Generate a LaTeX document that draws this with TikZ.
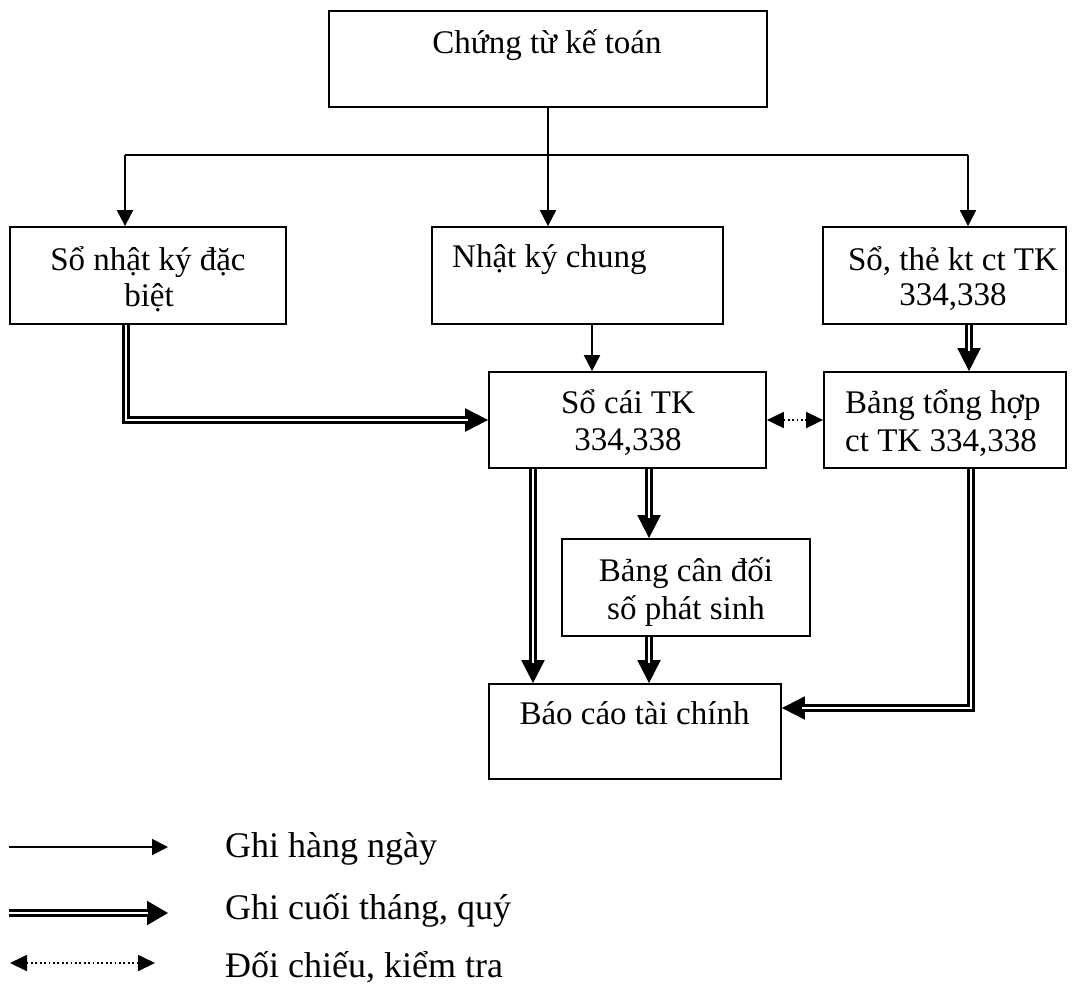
\documentclass[tikz,border=0pt]{standalone}
\usepackage{fontspec}
\setmainfont{Liberation Serif}
\usetikzlibrary{arrows.meta}
\begin{document}
\begin{tikzpicture}[x=1pt,y=-1pt,
  box/.style={draw,line width=1.8pt,rectangle,inner sep=0pt},
  txt/.style={inner sep=0pt,anchor=base,font=\fontsize{33}{39}\selectfont},
  txtl/.style={txt,anchor=base west},
  legtxt/.style={inner sep=0pt,anchor=base west,font=\fontsize{36}{43}\selectfont},
  plain/.style={line width=2pt},
  one/.style={line width=2pt,-{Triangle[length=16pt,width=16pt]}},
  twotip/.style={line width=2pt,-{Triangle[length=23pt,width=23pt]},line join=miter},
  two/.style={draw=black,double=white,line width=2.2pt,double distance=2.8pt,line join=miter,shorten >=20pt},
  chk/.style={line width=1.8pt,dash pattern=on 1.8pt off 2.6pt,
    {Triangle[length=17pt,width=16pt]}-{Triangle[length=17pt,width=16pt]}},
]
\useasboundingbox (0,0) rectangle (1075,991);

% boxes
\node[box,minimum width=438pt,minimum height=96pt] (top)   at (548,59)    {};
\node[box,minimum width=276pt,minimum height=97pt] (sod)   at (148,275.5) {};
\node[box,minimum width=291pt,minimum height=97pt] (nkc)   at (577.5,275.5) {};
\node[box,minimum width=243pt,minimum height=97pt] (sthe)  at (944.5,275.5) {};
\node[box,minimum width=277pt,minimum height=96pt] (socai) at (627.5,420) {};
\node[box,minimum width=242pt,minimum height=96pt] (bth)   at (945,420)   {};
\node[box,minimum width=248pt,minimum height=97pt] (bcd)   at (686,587.5) {};
\node[box,minimum width=292pt,minimum height=95pt] (bctc)  at (635,731.5) {};

% texts
\node[txt] (t1) at (547,53) {Chứng từ kế toán};
\node[txt] (t2a) at (148,270) {Sổ nhật ký đặc};
\node[txt] (t2b) at (149,306) {biệt};
\node[txtl] (t3) at (452,267) {Nhật ký chung};
\node[txt] (t4a) at (953,270) {Sổ, thẻ kt ct TK};
\node[txt] (t4b) at (953,305) {334,338};
\node[txt] (t5a) at (628,413) {Sổ cái TK};
\node[txt] (t5b) at (628,450) {334,338};
\node[txtl] (t6a) at (845,413) {Bảng tổng hợp};
\node[txtl] (t6b) at (845,451) {ct TK 334,338};
\node[txt] (t7a) at (686,581) {Bảng cân đối};
\node[txt] (t7b) at (686,619) {số phát sinh};
\node[txt] (t8) at (634.5,724) {Báo cáo tài chính};

% distribution bus below the source documents
\coordinate (bus)  at (548,155);
\coordinate (busL) at (125,155);
\coordinate (busR) at (968,155);
\draw[plain] (top.south) -- (bus);
\draw[plain] (busL) -- (busR);
\draw[one] (busL) -- (busL |- sod.north);
\draw[one] (bus) -- (bus |- nkc.north);
\draw[one] (busR) -- (busR |- sthe.north);

% daily posting to the ledger
\coordinate (c1) at (592,0);
\draw[one] (nkc.south -| c1) -- (socai.north -| c1);

% month-end postings
\coordinate (c2) at (969,0);
\draw[twotip] (sthe.south -| c2) -- (bth.north -| c2);
\draw[two] (sthe.south -| c2) -- (bth.north -| c2);

\coordinate (c3) at (126,420);
\draw[twotip] (sod.south -| c3) -- (c3) -- (socai.west);
\draw[two] (sod.south -| c3) -- (c3) -- (socai.west);

\coordinate (c4) at (533,0);
\draw[twotip] (socai.south -| c4) -- (bctc.north -| c4);
\draw[two] (socai.south -| c4) -- (bctc.north -| c4);

\coordinate (c5) at (649,0);
\draw[twotip] (socai.south -| c5) -- (bcd.north -| c5);
\draw[two] (socai.south -| c5) -- (bcd.north -| c5);

\draw[twotip] (bcd.south -| c5) -- (bctc.north -| c5);
\draw[two] (bcd.south -| c5) -- (bctc.north -| c5);

\coordinate (c7) at (971,708);
\draw[twotip] (bth.south -| c7) -- (c7) -- (bctc.east |- c7);
\draw[two] (bth.south -| c7) -- (c7) -- (bctc.east |- c7);

% cross-check
\draw[chk] (socai.east) -- (bth.west);

% legend
\coordinate (l1a) at (9,847);  \coordinate (l1b) at (168,847);
\coordinate (l2a) at (9,913);  \coordinate (l2b) at (168,913);
\coordinate (l3a) at (10,963); \coordinate (l3b) at (155,963);
\draw[one] (l1a) -- (l1b);
\draw[line width=2pt,-{Triangle[length=21pt,width=24pt]}] (l2a) -- (l2b);
\draw[two] (l2a) -- (l2b);
\draw[chk] (l3a) -- (l3b);
\node[legtxt] (g1) at (225,857) {Ghi hàng ngày};
\node[legtxt] (g2) at (225,919) {Ghi cuối tháng, quý};
\node[legtxt] (g3) at (225,977) {Đối chiếu, kiểm tra};
\end{tikzpicture}
\end{document}
